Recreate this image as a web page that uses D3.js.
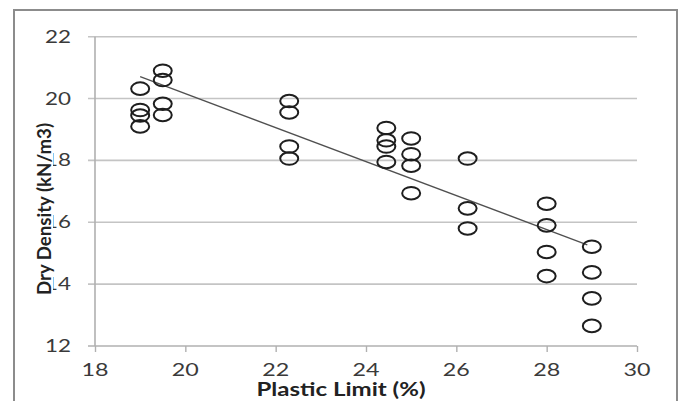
<!DOCTYPE html>
<html>
<head>
<meta charset="utf-8">
<script src="https://cdn.jsdelivr.net/npm/d3@7/dist/d3.min.js"></script>
<style>
  html, body { margin: 0; padding: 0; background: #fff; }
  svg { display: block; }
</style>
</head>
<body>
<svg id="chart" width="686" height="401"></svg>
<script>
// Plastic limit (%) of each specimen group
const plasticLimit = [19, 19.5, 22.3, 24.45, 25, 26.25, 28, 29];
// Dry density (kN/m3) measured in each group
const dryDensity = [
  [20.32, 19.63, 19.45, 19.1],
  [20.9, 20.6, 19.83, 19.47],
  [19.92, 19.55, 18.45, 18.06],
  [19.05, 18.65, 18.45, 17.95],
  [18.71, 18.2, 17.83, 16.94],
  [18.06, 16.45, 15.8],
  [16.6, 15.9, 15.04, 14.26],
  [15.21, 14.38, 13.54, 12.65]
];
// Trend line end points
const trendX = [19, 28.9];
const trendY = [20.71, 15.27];
// Axis ticks
const xTicks = [18, 20, 22, 24, 26, 28, 30];
const yTicks = [12, 14, 16, 18, 20, 22];

const svg = d3.select("#chart");
const x = d3.scaleLinear().domain([18, 30]).range([95, 637]);
const y = d3.scaleLinear().domain([12, 22]).range([346, 36.7]);

// outer chart frame
svg.append("rect")
  .attr("x", 14).attr("y", 10).attr("width", 663).attr("height", 420)
  .attr("fill", "#fff").attr("stroke", "#8c8c8c").attr("stroke-width", 2);

// horizontal gridlines (extend left as tick marks)
svg.append("g").selectAll("line")
  .data(yTicks.filter(v => v > 12))
  .join("line")
  .attr("x1", 88).attr("x2", x(30))
  .attr("y1", d => y(d)).attr("y2", d => y(d))
  .attr("stroke", "#c4c4c4").attr("stroke-width", 1.6);

// y axis line
svg.append("line")
  .attr("x1", x(18)).attr("x2", x(18))
  .attr("y1", y(22)).attr("y2", y(12))
  .attr("stroke", "#b0b0b0").attr("stroke-width", 1.6);

// x axis with downward ticks
const xAxis = d3.axisBottom(x).tickValues(xTicks).tickSize(6).tickFormat("");
const gx = svg.append("g").attr("transform", `translate(0,${y(12)})`).call(xAxis);
gx.select(".domain").attr("stroke", "#b0b0b0").attr("stroke-width", 1.6)
  .attr("d", `M88,0H${x(30)}`);
gx.selectAll(".tick line").attr("stroke", "#b0b0b0").attr("stroke-width", 1.4);

// y tick labels
svg.append("g").selectAll("text")
  .data(yTicks)
  .join("text")
  .attr("x", 71).attr("y", d => y(d) + 6)
  .attr("text-anchor", "end")
  .attr("font-family", "Lato, 'Open Sans', sans-serif")
  .attr("font-size", 18)
  .attr("fill", "#3a3a3a")
  .attr("textLength", 26).attr("lengthAdjust", "spacingAndGlyphs")
  .text(d => d);

// x tick labels
svg.append("g").selectAll("text")
  .data(xTicks)
  .join("text")
  .attr("x", d => x(d)).attr("y", 376)
  .attr("text-anchor", "middle")
  .attr("font-family", "Lato, 'Open Sans', sans-serif")
  .attr("font-size", 18)
  .attr("fill", "#3a3a3a")
  .attr("textLength", 27).attr("lengthAdjust", "spacingAndGlyphs")
  .text(d => d);

// trend line
svg.append("path")
  .datum(trendX.map((v, i) => [v, trendY[i]]))
  .attr("fill", "none")
  .attr("stroke", "#505050").attr("stroke-width", 1.3)
  .attr("d", d3.line().x(d => x(d[0])).y(d => y(d[1])));

// specimen markers
const points = plasticLimit.flatMap((pl, i) => dryDensity[i].map(v => ({ pl, v })));
svg.append("g").selectAll("ellipse")
  .data(points)
  .join("ellipse")
  .attr("cx", d => x(d.pl)).attr("cy", d => y(d.v))
  .attr("rx", 9).attr("ry", 6.3)
  .attr("fill", "none").attr("stroke", "#1e1e1e").attr("stroke-width", 2);

// y axis title
const ty = svg.append("g").attr("transform", "translate(45,209) rotate(-90)");
ty.append("rect").attr("x", -86).attr("y", -10).attr("width", 172).attr("height", 18).attr("fill", "#fff");
ty.append("text")
  .attr("x", 0).attr("y", 6)
  .attr("text-anchor", "middle")
  .attr("font-family", "Lato, 'Open Sans', sans-serif")
  .attr("font-weight", "bold").attr("font-size", 18)
  .attr("fill", "#222")
  .attr("textLength", 172).attr("lengthAdjust", "spacingAndGlyphs")
  .text("Dry Density (kN/m3)");

// x axis title
svg.append("text")
  .attr("x", 341).attr("y", 396)
  .attr("text-anchor", "middle")
  .attr("font-family", "Lato, 'Open Sans', sans-serif")
  .attr("font-weight", "bold").attr("font-size", 18)
  .attr("fill", "#222")
  .attr("textLength", 169).attr("lengthAdjust", "spacingAndGlyphs")
  .text("Plastic Limit (%)");
</script>
</body>
</html>
